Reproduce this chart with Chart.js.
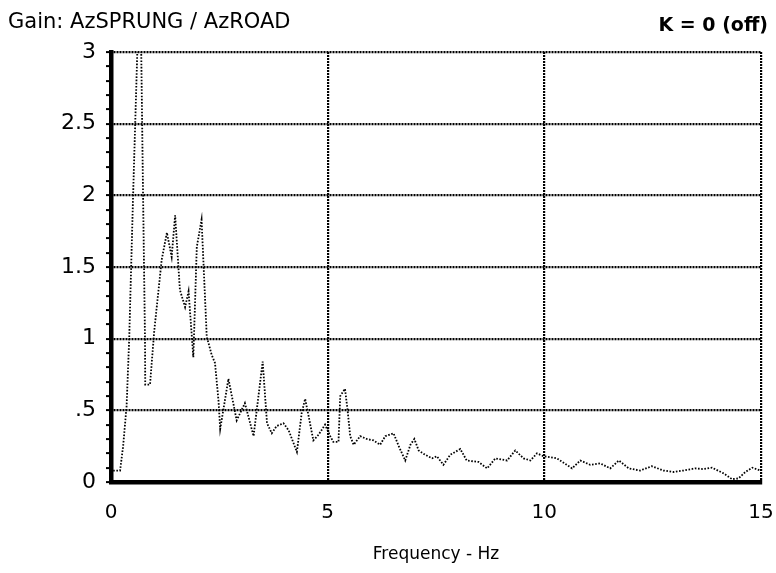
<!DOCTYPE html>
<html>
<head>
<meta charset="utf-8">
<script src="https://cdn.jsdelivr.net/npm/chart.js@4/dist/chart.umd.min.js"></script>
<style>
  html, body { margin: 0; padding: 0; background: #fff; }
  canvas { display: block; }
</style>
</head>
<body>
<canvas id="gain-chart" width="776" height="573"></canvas>
<script>
// --- Data ---
const freqHz = [
    0.05, 0.21, 0.28, 0.36, 0.42, 0.51, 0.67, 0.74, 0.785, 0.79, 0.90, 1.00,
    1.17, 1.29, 1.40, 1.48, 1.59, 1.71, 1.79, 1.90, 1.98, 2.09, 2.21, 2.25,
    2.32, 2.40, 2.48, 2.52, 2.71, 2.90, 3.09, 3.29, 3.50, 3.60, 3.71, 3.82,
    3.98, 4.10, 4.29, 4.40, 4.48, 4.56, 4.67, 4.79, 4.94, 5.06, 5.13, 5.25,
    5.29, 5.40, 5.46, 5.52, 5.60, 5.75, 5.90, 6.06, 6.21, 6.33, 6.52, 6.64,
    6.79, 6.91, 7.00, 7.10, 7.25, 7.41, 7.52, 7.67, 7.83, 8.06, 8.21, 8.48,
    8.68, 8.87, 9.14, 9.33, 9.52, 9.68, 9.83, 9.98, 10.29, 10.64, 10.83, 11.06,
    11.29, 11.52, 11.72, 11.95, 12.21, 12.48, 12.75, 12.98, 13.21, 13.48, 13.67, 13.87,
    14.14, 14.33, 14.48, 14.64, 14.80, 14.99
];
const gain = [
    0.08, 0.08, 0.25, 0.53, 1.00, 2.00, 3.65, 2.00, 0.99, 0.68, 0.68, 1.06,
    1.55, 1.74, 1.57, 1.86, 1.34, 1.22, 1.33, 0.87, 1.64, 1.83, 1.01, 0.97,
    0.89, 0.83, 0.57, 0.37, 0.72, 0.43, 0.55, 0.32, 0.84, 0.41, 0.34, 0.39,
    0.41, 0.36, 0.21, 0.48, 0.58, 0.46, 0.29, 0.33, 0.40, 0.32, 0.28, 0.28,
    0.60, 0.65, 0.50, 0.32, 0.26, 0.32, 0.30, 0.29, 0.26, 0.32, 0.34, 0.25,
    0.15, 0.26, 0.30, 0.22, 0.19, 0.165, 0.18, 0.12, 0.19, 0.23, 0.15, 0.14,
    0.095, 0.165, 0.15, 0.22, 0.165, 0.15, 0.20, 0.18, 0.165, 0.095, 0.15, 0.12,
    0.13, 0.095, 0.15, 0.095, 0.08, 0.11, 0.08, 0.07, 0.08, 0.095, 0.09, 0.10,
    0.06, 0.02, 0.025, 0.07, 0.10, 0.08
];
const xMajor = [0, 5, 10, 15];
const yMajor = [0, 0.5, 1, 1.5, 2, 2.5, 3];
const yTickText = ['0', '.5', '1', '1.5', '2', '2.5', '3'];

const titleLeft = 'Gain: AzSPRUNG / AzROAD';
const titleRight = 'K = 0 (off)';
const xTitle = 'Frequency - Hz';

const FONT = '"DejaVu Sans", Verdana, sans-serif';

// --- Helpers ---
function majorIndex(list, v) {
    return list.findIndex(m => Math.abs(m - v) < 1e-6);
}

const headerPlugin = {
    id: 'header',
    afterDraw(chart) {
        const ctx = chart.ctx;
        ctx.save();
        ctx.fillStyle = '#000';
        ctx.textBaseline = 'alphabetic';
        ctx.font = '21px ' + FONT;
        ctx.textAlign = 'left';
        ctx.fillText(titleLeft, 8, 28);
        ctx.font = 'bold 19px ' + FONT;
        ctx.textAlign = 'right';
        ctx.fillText(titleRight, 768, 31);
        ctx.restore();
    }
};

const points = freqHz.map((f, i) => ({ x: f, y: gain[i] }));

new Chart(document.getElementById('gain-chart'), {
    type: 'line',
    data: {
        datasets: [{
            data: points,
            borderColor: '#000',
            borderWidth: 1.8,
            borderDash: [1.6, 1.6],
            pointRadius: 0,
            tension: 0,
            fill: false
        }]
    },
    options: {
        responsive: false,
        animation: false,
        layout: { padding: { top: 52, right: 15, left: 0, bottom: 0 } },
        plugins: {
            legend: { display: false },
            tooltip: { enabled: false },
            title: { display: false }
        },
        scales: {
            x: {
                type: 'linear',
                min: 0,
                max: 15,
                afterFit: scale => { scale.height = 91; },
                ticks: {
                    stepSize: 5,
                    autoSkip: false,
                    maxRotation: 0,
                    padding: 0,
                    color: '#000',
                    font: { family: FONT, size: 20 },
                    callback: v => String(v)
                },
                grid: {
                    color: '#000',
                    lineWidth: 2.2,
                    tickColor: 'rgba(0,0,0,0)',
                    tickLength: 19
                },
                border: { display: true, color: '#000', width: 4.5, dash: [2, 1] },
                title: {
                    display: true,
                    text: xTitle,
                    color: '#000',
                    font: { family: FONT, size: 17 },
                    padding: { top: 0, bottom: 8 }
                }
            },
            y: {
                type: 'linear',
                min: 0,
                max: 3,
                afterFit: scale => { scale.width = 111; },
                ticks: {
                    stepSize: 0.1,
                    autoSkip: false,
                    padding: 10,
                    color: '#000',
                    font: { family: FONT, size: 22 },
                    callback: v => {
                        const k = majorIndex(yMajor, v);
                        return k >= 0 ? yTickText[k] : '';
                    }
                },
                grid: {
                    color: c => (c.tick && majorIndex(yMajor, c.tick.value) >= 0 ? '#000' : 'rgba(0,0,0,0)'),
                    lineWidth: 2.2,
                    tickColor: '#000',
                    tickLength: 5,
                    tickWidth: 2
                },
                border: { display: true, color: '#000', width: 4.5, dash: [2, 1] }
            }
        }
    },
    plugins: [headerPlugin]
});
</script>
</body>
</html>
